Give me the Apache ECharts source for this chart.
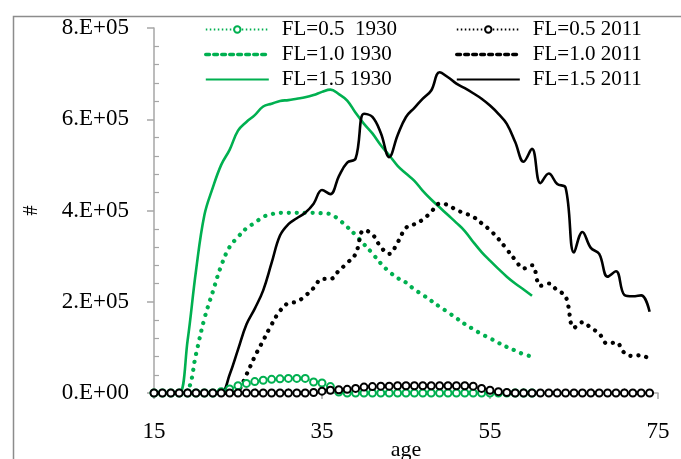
<!DOCTYPE html>
<html>
<head>
<meta charset="utf-8">
<script src="https://cdn.jsdelivr.net/npm/echarts@6/dist/echarts.min.js"></script>
<style>
  html, body { margin: 0; padding: 0; background: #fff; }
  #chart { width: 681px; height: 459px; }
</style>
</head>
<body>
<div id="chart"></div>
<script>
// Ages (x values)
const ages1930 = [15,16,17,18,19,20,21,22,23,24,25,26,27,28,29,30,31,32,33,34,35,36,37,38,39,40,
  41,42,43,44,45,46,47,48,49,50,51,52,53,54,55,56,57,58,59,60];
const ages2011 = [15,16,17,18,19,20,21,22,23,24,25,26,27,28,29,30,31,32,33,34,35,36,37,38,39,40,
  41,42,43,44,45,46,47,48,49,50,51,52,53,54,55,56,57,58,59,60,61,62,63,64,65,66,67,68,69,70,
  71,72,73,74];

// 1930 cohort counts by age
const fl05_1930 = [0,0,0,0,0,0,0,0,3000,9000,16000,21000,25000,28000,30000,31000,32000,32000,32000,
  24000,22000,14000,2000,0,0,0,0,0,0,0,0,0,0,0,0,0,0,0,0,0,0,0,0,0,0,0];
const fl10_1930 = [0,0,0,0,5000,85000,163000,222000,279000,320000,342000,361000,373000,386000,392000,
  395000,395000,395000,395000,395000,394000,392000,380000,364000,346000,326000,306000,284000,266000,
  252000,242000,227000,215000,202000,189000,177000,164000,151000,140000,129000,120000,110000,101000,
  93000,85000,80000];
const fl15_1930 = [0,0,0,0,115000,268000,390000,450000,500000,533000,575000,594000,609000,628000,
  634000,640000,642000,645000,648000,653000,660000,665000,655000,641000,614000,590000,569000,543000,
  521000,498000,481000,465000,443000,424000,407000,390000,373000,355000,331000,309000,290000,272000,
  255000,240000,227000,213000];

// 2011 cohort counts by age
const fl05_2011 = [0,0,0,0,0,0,0,0,0,0,0,0,0,0,0,0,0,0,0,1000,4000,6000,7000,8000,10000,13000,14000,
  15000,15000,16000,16000,16000,16000,16000,16000,16000,16000,16000,15000,10000,6000,3000,1000,0,0,
  0,0,0,0,0,0,0,0,0,0,0,0,0,0,0];
const fl10_2011 = [0,0,0,0,0,0,0,0,0,0,5000,40000,80000,115000,150000,180000,197000,200000,213000,
  230000,250000,250000,268000,285000,305000,357000,348000,320000,305000,330000,362000,370000,380000,
  397000,415000,412000,401000,394000,386000,372000,357000,338000,315000,292000,273000,280000,235000,
  240000,225000,212000,143000,155000,143000,130000,108000,111000,88000,81000,83000,73000];
const fl15_2011 = [0,0,0,0,0,0,0,0,0,40000,95000,150000,185000,225000,285000,345000,370000,383000,
  395000,415000,445000,436000,475000,505000,514000,612000,605000,570000,517000,565000,605000,625000,
  645000,663000,703000,692000,678000,668000,657000,645000,630000,612000,590000,550000,507000,535000,
  460000,481000,458000,450000,308000,353000,318000,305000,255000,267000,215000,212000,214000,178000];

// Axis ticks
const xTicks = [15, 35, 55, 75];
const yTicks = [0, 200000, 400000, 600000, 800000];

const GREEN = '#00b050';
const BLACK = '#000000';
const AXIS = '#a6a6a6';
const FONT = '"Liberation Serif", "DejaVu Serif", serif';

function pairs(xs, ys) { return xs.map((x, i) => [x, ys[i]]); }

function sciLabel(v) {
  if (v === 0) return '0.E+00';
  const exp = Math.floor(Math.log10(v));
  const mant = v / Math.pow(10, exp);
  return mant + '.E+' + String(exp).padStart(2, '0');
}

// Round-dot dash for the FL=1.0 curves, fine dots for the FL=0.5 curves
const dotLine = (color) => ({ color, width: 4.2, type: [0.1, 7.9], cap: 'round' });
const circleLine = (color) => ({ color, width: 1.3, type: [1.5, 2.5] });

const series = [
  {
    name: 'FL=0.5  1930', data: pairs(ages1930, fl05_1930), color: GREEN,
    symbol: 'emptyCircle', symbolSize: 7,
    itemStyle: { color: GREEN, borderWidth: 1.6 },
    lineStyle: circleLine(GREEN)
  },
  { name: 'FL=1.0 1930', data: pairs(ages1930, fl10_1930), color: GREEN, symbol: 'none', lineStyle: dotLine(GREEN) },
  { name: 'FL=1.5 1930', data: pairs(ages1930, fl15_1930), color: GREEN, symbol: 'none', lineStyle: { color: GREEN, width: 2.6 } },
  {
    name: 'FL=0.5 2011', data: pairs(ages2011, fl05_2011), color: BLACK,
    symbol: 'emptyCircle', symbolSize: 7,
    itemStyle: { color: BLACK, borderWidth: 1.6 },
    lineStyle: circleLine(BLACK)
  },
  { name: 'FL=1.0 2011', data: pairs(ages2011, fl10_2011), color: BLACK, symbol: 'none', lineStyle: dotLine(BLACK) },
  { name: 'FL=1.5 2011', data: pairs(ages2011, fl15_2011), color: BLACK, symbol: 'none', lineStyle: { color: BLACK, width: 2.6 } }
].map(s => Object.assign({ type: 'line', smooth: 0.4, showSymbol: s.symbol !== 'none', emphasis: { disabled: true } }, s));

// Legend entries: lines without markers get no marker in their icon;
// the dotted ones use short square dashes so the dots stay visible
function legendItems(names) {
  return names.map(n => {
    const s = series.find(x => x.name === n);
    if (s.symbol !== 'none') return { name: n };
    const item = { name: n, itemStyle: { opacity: 0 } };
    if (s.lineStyle.cap === 'round') item.lineStyle = { type: [3.6, 4.4], width: 3.6 };
    return item;
  });
}

const legendBase = {
  orient: 'vertical', top: 14, itemWidth: 63, itemHeight: 8, itemGap: 4,
  textStyle: { fontFamily: FONT, fontSize: 21, color: '#000', lineHeight: 21, padding: [0, 0, 0, 8] },
  selectedMode: false
};

const chart = echarts.init(document.getElementById('chart'), null, { renderer: 'canvas' });
chart.setOption({
  animation: false,
  backgroundColor: '#fff',
  grid: { left: 154, right: 23, top: 28, bottom: 66, containLabel: false, outerBoundsMode: 'none' },
  graphic: [{
    type: 'rect', left: 11, top: 14, z: -1, silent: true,
    shape: { width: 720, height: 520 },
    style: { fill: 'none', stroke: '#8c8c8c', lineWidth: 1.5 }
  }],
  legend: [
    Object.assign({ left: 199, data: legendItems(['FL=0.5  1930', 'FL=1.0 1930', 'FL=1.5 1930']) }, legendBase),
    Object.assign({ left: 450, data: legendItems(['FL=0.5 2011', 'FL=1.0 2011', 'FL=1.5 2011']) }, legendBase)
  ],
  xAxis: {
    type: 'value', min: xTicks[0], max: xTicks[xTicks.length - 1], interval: xTicks[1] - xTicks[0],
    name: 'age', nameLocation: 'middle', nameGap: 46, nameMoveOverlap: false,
    nameTextStyle: { fontFamily: FONT, fontSize: 22, color: '#000' },
    axisLine: { show: true, onZero: false, lineStyle: { color: AXIS, width: 1.5 } },
    axisTick: { show: true, length: 6, lineStyle: { color: AXIS, width: 1.5 } },
    minorTick: { show: true, splitNumber: 5, length: -5, lineStyle: { color: AXIS, width: 1.2 } },
    splitLine: { show: false },
    axisLabel: { fontFamily: FONT, fontSize: 23, color: '#000', margin: 27 }
  },
  yAxis: {
    type: 'value', min: yTicks[0], max: yTicks[yTicks.length - 1], interval: yTicks[1] - yTicks[0],
    name: '#', nameLocation: 'middle', nameGap: 112, nameRotate: 90, nameMoveOverlap: false,
    nameTextStyle: { fontFamily: FONT, fontSize: 20, color: '#000' },
    axisLine: { show: true, lineStyle: { color: AXIS, width: 1.5 } },
    axisTick: { show: true, length: 7, lineStyle: { color: AXIS, width: 1.5 } },
    minorTick: { show: true, splitNumber: 5, length: -5, lineStyle: { color: AXIS, width: 1.2 } },
    splitLine: { show: false },
    axisLabel: { fontFamily: FONT, fontSize: 23, color: '#000', margin: 25, formatter: sciLabel }
  },
  series
});
</script>
</body>
</html>
